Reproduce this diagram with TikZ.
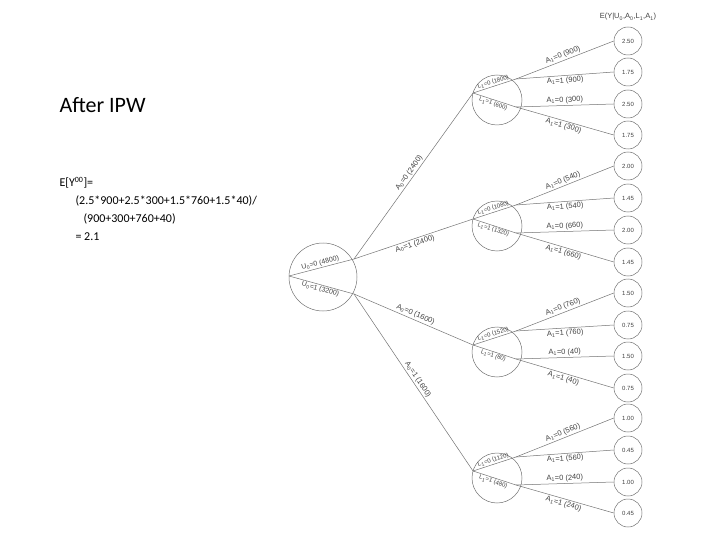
\documentclass[tikz,border=0pt]{standalone}
\usepackage{fontspec}
\setmainfont{Carlito}
\setsansfont{Liberation Sans}
\newcommand{\sbx}[1]{\textsubscript{#1}}
\begin{document}
\begin{tikzpicture}[x=1pt,y=-1pt,
  ln/.style={draw=black!55,line width=0.5pt},
  circ/.style={circle,draw=black!55,line width=0.5pt,inner sep=0pt},
  lab/.style={font=\sffamily\fontsize{7.5}{8}\selectfont,text=black!75,sloped,inner sep=1.5pt},
  small/.style={font=\sffamily\fontsize{6}{6}\selectfont,text=black!75,sloped,inner sep=1pt},
  leaf/.style={circ,minimum size=28pt,font=\sffamily\fontsize{6}{7}\selectfont,text=black!75}]
\useasboundingbox (0,0) rectangle (720,540);
\node[anchor=west,font=\fontsize{22}{26}\selectfont] (title) at (56,105) {After IPW};
\node[anchor=west,font=\fontsize{12}{14}\selectfont] (f1) at (56,183) {E[Y\textsuperscript{00}]=};
\node[anchor=west,font=\fontsize{12}{14}\selectfont] (f2) at (72,201) {(2.5*900+2.5*300+1.5*760+1.5*40)/};
\node[anchor=west,font=\fontsize{12}{14}\selectfont] (f3) at (80,219) {(900+300+760+40)};
\node[anchor=west,font=\fontsize{12}{14}\selectfont] (f4) at (72,237) {= 2.1};
\node[font=\sffamily\fontsize{7.5}{8}\selectfont,text=black!75] (hdr) at (628,17) {E(Y|U\sbx{0},A\sbx{0},L\sbx{1},A\sbx{1})};
% root
\node[circ,minimum size=68pt] (root) at (323,277) {};
\coordinate (rL) at (289,276);
\coordinate (rU) at (354,259);
\coordinate (rD) at (354,294);
\draw[ln] (rL) -- node[small,above,font=\sffamily\fontsize{7}{8}\selectfont]{U\sbx{0}=0 (4800)} (rU);
\draw[ln] (rL) -- node[small,below,font=\sffamily\fontsize{7}{8}\selectfont]{U\sbx{0}=1 (3200)} (rD);
\foreach \i/\cy/\src/\aa/\pos/\la/\lb/\ya/\yb/\yc/\yd/\va/\vb/\ca/\cb in {
 1/100/rU/{A\sbx{0}=0 (2400)}/above/1800/600/41/72/104/135/900/300/2.50/1.75,
 2/226/rU/{A\sbx{0}=1 (2400)}/below/1080/1320/166/198/230/262/540/660/2.00/1.45,
 3/352/rD/{A\sbx{0}=0 (1600)}/above/1520/80/293/325/356/388/760/40/1.50/0.75,
 4/478/rD/{A\sbx{0}=1 (1600)}/above/1120/480/418/450/482/513/560/240/1.00/0.45}{
  \node[circ,minimum size=50pt] (c\i) at (497,\cy) {};
  \coordinate (L\i) at (473,\cy-7);
  \coordinate (U\i) at (516,\cy-21);
  \coordinate (D\i) at (516,\cy+7);
  \draw[ln] (\src) -- node[lab,\pos]{\aa} (L\i);
  \draw[ln] (L\i) -- node[small,above]{L\sbx{1}=0 (\la)} (U\i);
  \draw[ln] (L\i) -- node[small,below]{L\sbx{1}=1 (\lb)} (D\i);
  \node[leaf] (e\i a) at (628,\ya) {\ca};
  \node[leaf] (e\i b) at (628,\yb) {\cb};
  \node[leaf] (e\i c) at (628,\yc) {\ca};
  \node[leaf] (e\i d) at (628,\yd) {\cb};
  \draw[ln] (U\i) -- node[lab,above]{A\sbx{1}=0 (\va)} (e\i a.west);
  \draw[ln] (U\i) -- node[lab,below]{A\sbx{1}=1 (\va)} (e\i b.west);
  \draw[ln] (D\i) -- node[lab,above]{A\sbx{1}=0 (\vb)} (e\i c.west);
  \draw[ln] (D\i) -- node[lab,below]{A\sbx{1}=1 (\vb)} (e\i d.west);
}
\end{tikzpicture}
\end{document}
